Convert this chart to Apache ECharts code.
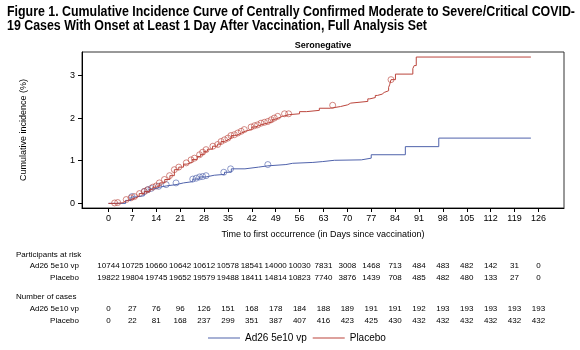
<!DOCTYPE html>
<html>
<head>
<meta charset="utf-8">
<script src="https://cdn.jsdelivr.net/npm/echarts@6/dist/echarts.min.js"></script>
<style>
  html, body { margin: 0; padding: 0; background: #fff; }
  #chart { width: 580px; height: 350px; }
</style>
</head>
<body>
<div id="chart"></div>
<script>
// tick labels
const xTicks = [0, 7, 14, 21, 28, 35, 42, 49, 56, 63, 70, 77, 84, 91, 98, 105, 112, 119, 126];
const yTicks = [0, 1, 2, 3];

// cumulative incidence (%) step curves: [day, value]
const vacCurve = [
  [0, 0], [5, 0.07], [6.6, 0.15], [8, 0.18], [10.5, 0.28], [12, 0.34], [13.5, 0.38],
  [15, 0.41], [17, 0.44], [19.8, 0.48], [22, 0.51], [24.7, 0.57], [26.7, 0.62],
  [28.6, 0.66], [31, 0.68], [34, 0.73], [36, 0.81], [40, 0.85], [44, 0.88],
  [46.7, 0.91], [52, 0.94], [54, 0.96], [59.9, 0.98], [62.8, 1.01], [66.2, 1.02],
  [74.1, 1.06], [77, 1.14], [87, 1.33], [96.8, 1.53], [123.8, 1.53]
];
const plaCurve = [
  [0, 0], [2, 0.01], [4, 0.05], [5, 0.09], [6.5, 0.13], [8, 0.17], [9, 0.23],
  [10.5, 0.28], [12, 0.33], [13, 0.38], [14, 0.41], [15, 0.48], [16.5, 0.56],
  [18, 0.65], [19.3, 0.79], [20.6, 0.85], [22, 0.92], [23, 0.96], [24.5, 1.03],
  [26, 1.1], [27, 1.15], [28, 1.22], [29, 1.27], [30.5, 1.34], [32, 1.39],
  [33, 1.45], [34, 1.49], [35, 1.53], [36, 1.59], [37, 1.61], [38, 1.65],
  [39, 1.69], [40, 1.73], [42, 1.79], [43, 1.82], [44, 1.85], [45, 1.88],
  [46.5, 1.91], [48, 1.97], [49, 2.01], [50, 2.04], [51, 2.08], [53, 2.1],
  [56, 2.15], [58, 2.18], [61.8, 2.23], [65, 2.27], [68, 2.31], [70.1, 2.35],
  [71, 2.39], [76, 2.45], [76.6, 2.48], [78.2, 2.53], [78.8, 2.56], [80.2, 2.6],
  [80.8, 2.64], [82.1, 2.72], [82.4, 2.78], [82.8, 2.9], [84.1, 3.03],
  [89.2, 3.16], [89.6, 3.23], [90.2, 3.43], [123.8, 3.43]
];

// censoring marks
const vacCensor = [
  [6.9, 0.16], [10.5, 0.28], [11.5, 0.32], [12.5, 0.35], [14.7, 0.4], [16.9, 0.44],
  [19.8, 0.48], [24.7, 0.57], [25.7, 0.59], [26.7, 0.62], [27.6, 0.63], [28.6, 0.65],
  [33.8, 0.73], [35.8, 0.81], [46.7, 0.91]
];
const plaCensor = [
  [1.8, 0.01], [2.7, 0.02], [5.2, 0.09], [6.6, 0.13], [7.6, 0.16], [9.1, 0.23],
  [10.5, 0.28], [11.5, 0.32], [13, 0.38], [14, 0.41], [14.9, 0.48], [16.4, 0.56],
  [17.9, 0.65], [19.3, 0.79], [20.6, 0.85], [22.8, 0.95], [24.2, 1.02], [25.2, 1.06],
  [26.7, 1.14], [27.6, 1.2], [28.6, 1.26], [30.6, 1.34], [32, 1.38], [33, 1.45],
  [34, 1.49], [35, 1.53], [35.9, 1.59], [36.9, 1.61], [37.9, 1.65], [38.9, 1.69],
  [39.8, 1.73], [41.8, 1.79], [42.8, 1.82], [43.7, 1.84], [44.7, 1.88], [45.7, 1.9],
  [46.7, 1.92], [47.7, 1.96], [48.6, 2.0], [49.6, 2.04], [51.6, 2.1], [52.8, 2.1],
  [65.7, 2.3], [82.8, 2.9]
];

// risk table
const vacAtRisk = [10744, 10725, 10660, 10642, 10612, 10578, 18541, 14000, 10030, 7831, 3008, 1468, 713, 484, 483, 482, 142, 31, 0];
const plaAtRisk = [19822, 19804, 19745, 19652, 19579, 19488, 18411, 14814, 10823, 7740, 3876, 1439, 708, 485, 482, 480, 133, 27, 0];
const vacCases = [0, 27, 76, 96, 126, 151, 168, 178, 184, 188, 189, 191, 191, 192, 193, 193, 193, 193, 193];
const plaCases = [0, 22, 81, 168, 237, 299, 351, 387, 407, 416, 423, 425, 430, 432, 432, 432, 432, 432, 432];

const BLUE = '#4f62ab';
const RED = '#bb453c';
const FONT = 'Liberation Sans';
const X_MIN = -7.76, X_MAX = 133.5;

const TITLE1 = 'Figure 1. Cumulative Incidence Curve of Centrally Confirmed Moderate to Severe/Critical COVID-';
const TITLE2 = '19 Cases With Onset at Least 1 Day After Vaccination, Full Analysis Set';

// squeeze the title so it fits like the narrow font of the original
const ctx = document.createElement('canvas').getContext('2d');
ctx.font = 'bold 14px "Liberation Sans"';
const titleScale = 568 / ctx.measureText(TITLE1).width;

const chart = echarts.init(document.getElementById('chart'));

function rowAxis(values, offset) {
  return {
    type: 'value', min: X_MIN, max: X_MAX, position: 'bottom', offset: offset,
    axisLine: { show: false }, axisTick: { show: false }, splitLine: { show: false },
    axisLabel: {
      customValues: xTicks, margin: 0, fontSize: 8, color: '#000', fontFamily: FONT,
      verticalAlign: 'middle',
      formatter: v => String(values[Math.round(v / 7)])
    }
  };
}

function rowName(text, y) {
  return {
    type: 'text', x: 79, y: y,
    style: { text: text, fontSize: 8, fill: '#000', fontFamily: FONT, align: 'right', verticalAlign: 'middle' }
  };
}

const option = {
  animation: false,
  title: {
    text: 'Seronegative', left: 323, top: 41, textAlign: 'center', padding: 0,
    textStyle: { fontSize: 9, fontWeight: 'bold', color: '#000', fontFamily: FONT }
  },
  legend: {
    data: [{ name: 'Ad26 5e10 vp', icon: 'rect' }, { name: 'Placebo', icon: 'rect' }],
    left: 208, top: 333, padding: 0, itemWidth: 32, itemHeight: 1, itemGap: 6,
    textStyle: { fontSize: 10, color: '#000', fontFamily: FONT }
  },
  graphic: [
    {
      type: 'text', x: 7, y: 5, scaleX: titleScale,
      style: { text: TITLE1 + '\n' + TITLE2, fontSize: 14, fontWeight: 'bold', lineHeight: 14, fill: '#000', fontFamily: FONT }
    },
    { type: 'text', x: 16, y: 255, style: { text: 'Participants at risk', fontSize: 8, fill: '#000', fontFamily: FONT, verticalAlign: 'middle' } },
    rowName('Ad26 5e10 vp', 266),
    rowName('Placebo', 278),
    { type: 'text', x: 16, y: 297, style: { text: 'Number of cases', fontSize: 8, fill: '#000', fontFamily: FONT, verticalAlign: 'middle' } },
    rowName('Ad26 5e10 vp', 309),
    rowName('Placebo', 321)
  ],
  grid: {
    left: 82, top: 52, width: 482, height: 156,
    show: true, borderColor: '#333', borderWidth: 1
  },
  xAxis: [
    {
      type: 'value', min: X_MIN, max: X_MAX,
      axisLine: { show: true, onZero: false, lineStyle: { color: '#000' } },
      axisTick: { show: true, customValues: xTicks, length: 4, lineStyle: { color: '#000' } },
      axisLabel: { customValues: xTicks, margin: 6, fontSize: 9, color: '#000', fontFamily: FONT },
      splitLine: { show: false },
      name: 'Time to first occurrence (in Days since vaccination)',
      nameLocation: 'middle', nameGap: 22,
      nameTextStyle: { fontSize: 9, color: '#000', fontFamily: FONT }
    },
    rowAxis(vacAtRisk, 58),
    rowAxis(plaAtRisk, 70),
    rowAxis(vacCases, 101),
    rowAxis(plaCases, 113)
  ],
  yAxis: {
    type: 'value', min: -0.108, max: 3.548,
    axisLine: { show: true, onZero: false, lineStyle: { color: '#000' } },
    axisTick: { show: true, customValues: yTicks, length: 4, lineStyle: { color: '#000' } },
    axisLabel: { customValues: yTicks, margin: 7, fontSize: 9, color: '#000', fontFamily: FONT },
    splitLine: { show: false },
    name: 'Cumulative incidence (%)', nameLocation: 'middle', nameGap: 54,
    nameTextStyle: { fontSize: 9, color: '#000', fontFamily: FONT }
  },
  series: [
    {
      name: 'Ad26 5e10 vp', type: 'line', step: 'end', data: vacCurve,
      symbol: 'none', lineStyle: { color: BLUE, width: 1 }, itemStyle: { color: BLUE }
    },
    {
      name: 'Placebo', type: 'line', step: 'end', data: plaCurve,
      symbol: 'none', lineStyle: { color: RED, width: 1 }, itemStyle: { color: RED }
    },
    {
      name: 'vac censored', type: 'scatter', data: vacCensor,
      symbol: 'circle', symbolSize: 6,
      itemStyle: { color: 'rgba(0,0,0,0)', borderColor: BLUE, borderWidth: 0.8 }
    },
    {
      name: 'pla censored', type: 'scatter', data: plaCensor,
      symbol: 'circle', symbolSize: 6,
      itemStyle: { color: 'rgba(0,0,0,0)', borderColor: RED, borderWidth: 0.8 }
    }
  ]
};

chart.setOption(option);
</script>
</body>
</html>
